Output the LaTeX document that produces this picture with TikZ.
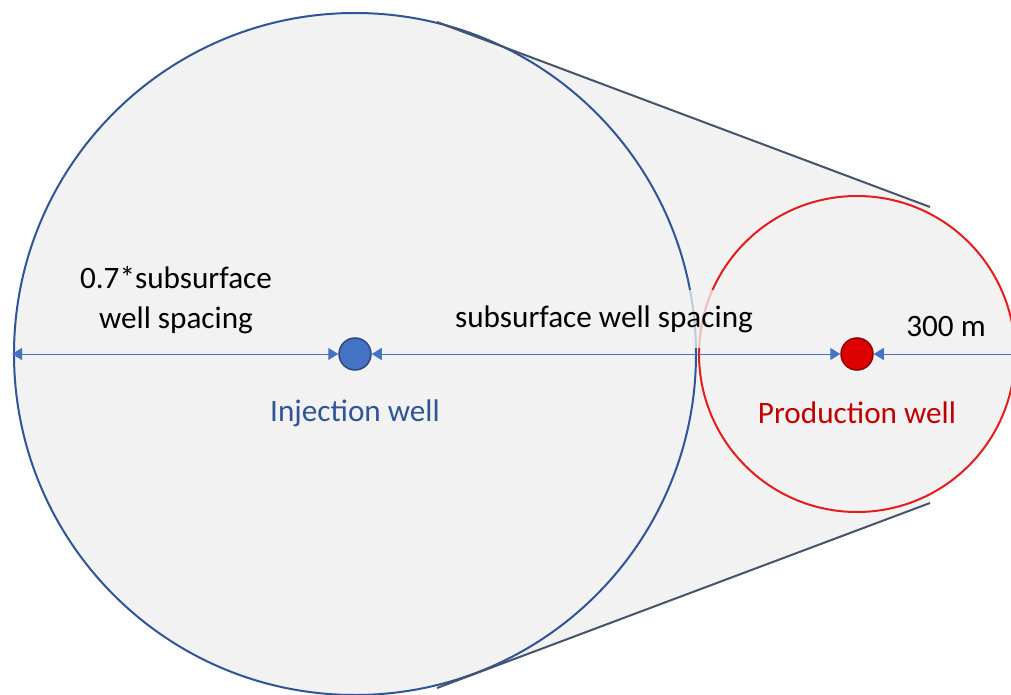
\documentclass[tikz,border=0pt]{standalone}
\usepackage{fontspec}
\setmainfont{Carlito}
\usetikzlibrary{arrows.meta}

\definecolor{hullgray}{HTML}{F2F2F2}
\definecolor{bigblue}{HTML}{2F5597}
\definecolor{slate}{HTML}{44546A}
\definecolor{ringred}{HTML}{E41C1C}
\definecolor{arrowblue}{HTML}{4472C4}
\definecolor{injblue}{HTML}{4472C4}
\definecolor{prodred}{HTML}{DD0000}
\definecolor{prodlabel}{HTML}{C00000}

\begin{document}
\begin{tikzpicture}[x=0.5pt,y=-0.5pt,>={Triangle[length=5pt,width=6pt]},
  lbl/.style={font=\fontsize{15.6}{20}\selectfont,align=center},
  well/.style={circle,line width=0.75pt,minimum size=16pt,inner sep=0pt},
  dim/.style={arrowblue,line width=0.5pt}]
  \useasboundingbox (0,0) rectangle (1011,695);

  \coordinate (bigc) at (355,354);
  \coordinate (smallc) at (857,354);

  % shaded outline of both areas
  \fill[hullgray] (bigc) circle[radius=341];
  \fill[hullgray] (smallc) circle[radius=158];
  \fill[hullgray] (437,22) -- (930,207) -- (930,503) -- (437,688) -- cycle;

  \draw[bigblue,line width=1pt] (bigc) circle[radius=341];
  \draw[slate,line width=1pt] (437,22) -- (930,207);
  \draw[slate,line width=1pt] (437,688) -- (930,503);
  \draw[ringred,line width=1pt] (smallc) circle[radius=158];

  % wells
  \node[well,fill=injblue,draw=injblue!65!black] (inj) at (bigc) {};
  \node[well,fill=prodred,draw=prodred!65!black] (prod) at (smallc) {};

  \coordinate (lw) at (12,354);
  \coordinate (rw) at (1011,354);
  \draw[<->,dim] (lw) -- (inj);
  \draw[<->,dim] (inj) -- (prod);
  \draw[->,dim] (rw) -- (prod);

  % labels
  \node[lbl] (spc7) at (176,300) {0.7*subsurface\\well spacing};
  \node[lbl,fill=hullgray,fill opacity=0.75,text opacity=1,minimum height=29pt] (spc) at (604,319) {subsurface well spacing};
  \node[lbl] (dist) at (946,326) {300 m};
  \node[lbl,text=bigblue] (injlbl) at (355,413) {Injection well};
  \node[lbl,text=prodlabel] (prodlbl) at (857,413) {Production well};
\end{tikzpicture}
\end{document}
